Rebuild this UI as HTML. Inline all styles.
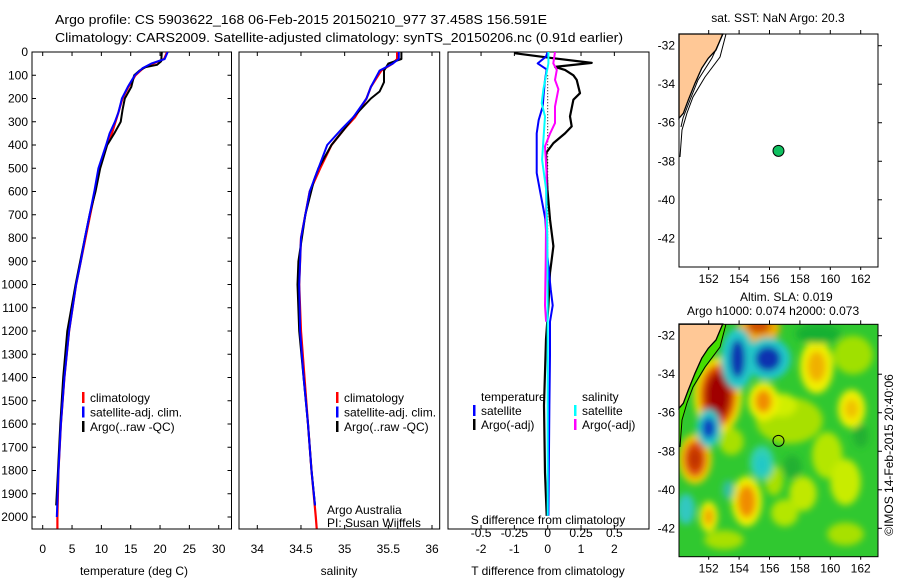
<!DOCTYPE html>
<html><head><meta charset="utf-8"><style>
html,body{margin:0;padding:0;background:#fff;}
svg{display:block;font-family:"Liberation Sans",sans-serif;}
</style></head><body>
<svg id="fig" width="900" height="580" viewBox="0 0 900 580" xmlns="http://www.w3.org/2000/svg">
<defs>
<clipPath id="clipHeat"><rect x="679" y="324.3" width="199" height="232.4"/></clipPath>
<clipPath id="clipTop"><rect x="679" y="34" width="199" height="233"/></clipPath>
<clipPath id="clipP1"><rect x="32" y="52" width="199.5" height="477"/></clipPath>
<clipPath id="clipP2"><rect x="239" y="52" width="200.7" height="477"/></clipPath>
<clipPath id="clipP3"><rect x="448" y="52" width="201" height="477"/></clipPath>
<filter id="blur" x="-50%" y="-50%" width="200%" height="200%"><feGaussianBlur stdDeviation="3.5"/></filter>
</defs>
<text x="55" y="24" font-size="13" textLength="492" lengthAdjust="spacingAndGlyphs">Argo profile: CS 5903622_168 06-Feb-2015 20150210_977 37.458S 156.591E</text>
<text x="55" y="42" font-size="13" textLength="568" lengthAdjust="spacingAndGlyphs">Climatology: CARS2009. Satellite-adjusted climatology: synTS_20150206.nc (0.91d earlier)</text>
<g id="layer"></g>
</svg>
<script>
// ---- data ----
const depthTicks = [0,100,200,300,400,500,600,700,800,900,1000,1100,1200,1300,1400,1500,1600,1700,1800,1900,2000];
const tempTicks = [0,5,10,15,20,25,30];
const salTicks = [34,34.5,35,35.5,36];
const salTickLabels = ["34","34.5","35","35.5","36"];
const tdiffTicks = [-2,-1,0,1,2];
const sdiffTicks = [-0.5,-0.25,0,0.25,0.5];
const sdiffTickLabels = ["-0.5","-0.25","0","0.25","0.5"];

const tClimDepth = [0,30,50,70,100,150,200,260,300,350,400,500,600,700,800,900,1000,1200,1400,1600,1800,2000,2050];
const tClimVal   = [21.2,20.7,18.8,17.1,15.8,14.6,13.6,12.9,12.4,11.8,10.9,9.7,8.9,8.1,7.3,6.5,5.7,4.5,3.7,3.1,2.7,2.5,2.5];
const tSatDepth = [0,30,50,70,100,150,200,260,300,350,400,500,600,700,800,900,1000,1200,1400,1600,1800,2000];
const tSatVal   = [21.3,20.8,18.5,17.0,15.7,14.5,13.5,12.9,12.3,11.4,10.8,9.5,8.8,8.0,7.2,6.5,5.7,4.5,3.7,3.1,2.7,2.4];
const tArgoDepth = [0,40,55,65,80,100,150,200,250,300,350,400,500,600,700,800,900,1000,1200,1400,1600,1800,1950];
const tArgoVal   = [20.3,20.2,19.5,17.5,16.5,15.6,15.1,14.0,13.6,13.3,12.2,11.0,9.8,9.0,8.0,7.2,6.4,5.6,4.2,3.5,3.0,2.6,2.3];

const sClimDepth = [0,30,50,80,150,200,280,330,400,500,600,800,1000,1200,1400,1600,1800,2000,2050];
const sClimVal   = [35.6,35.6,35.55,35.42,35.3,35.25,35.12,35.0,34.85,34.72,34.6,34.5,34.48,34.5,34.54,34.58,34.62,34.67,34.68];
const sSatDepth = [0,30,50,80,150,200,280,330,400,500,600,800,1000,1200,1400,1600,1800,1950];
const sSatVal   = [35.62,35.62,35.55,35.4,35.3,35.25,35.1,34.97,34.8,34.7,34.6,34.5,34.48,34.49,34.53,34.58,34.62,34.66];
const sArgoDepth = [0,30,50,80,130,170,200,280,330,400,500,550,700,900,1000,1200,1400,1600,1800,1950];
const sArgoVal   = [35.65,35.65,35.5,35.45,35.45,35.4,35.3,35.1,35.0,34.85,34.7,34.65,34.55,34.47,34.46,34.48,34.53,34.58,34.62,34.66];

const dTSatDepth = [0,20,49,75,120,180,235,292,350,435,520,606,720,877,1020,1090,1160,1305,1520,1995];
const dTSatVal   = [0.0,-0.05,-0.3,-0.03,-0.08,-0.12,-0.15,-0.27,-0.33,-0.33,-0.33,-0.22,-0.07,-0.01,0.09,0.15,0.07,0.07,0.05,0.02];
const dTArgoDepth = [5,25,47,64,77,100,120,177,205,277,320,350,392,435,590,720,835,950,1090,1235,1520,1810,1995];
const dTArgoVal   = [-1.0,0.07,1.32,0.22,0.52,0.77,0.87,0.97,0.77,0.67,0.72,0.52,0.17,-0.05,-0.01,0.07,0.17,0.07,0.02,-0.05,-0.11,-0.08,-0.03];
const dSSatDepth = [0,49,100,160,220,277,378,464,590,806,1200,1995];
const dSSatVal   = [0.005,0.005,-0.012,-0.032,-0.045,-0.02,-0.032,-0.042,-0.012,-0.002,0.0,0.0];
const dSArgoDepth = [0,49,77,120,160,235,306,350,406,520,692,900,1090,1160];
const dSArgoVal   = [0.055,0.042,0.068,0.055,0.08,0.055,0.055,0.018,-0.02,-0.008,-0.012,-0.015,-0.02,-0.012];

const mapLonTicks = [152,154,156,158,160,162];
const mapLatTicks = [-32,-34,-36,-38,-40,-42];
const argoLon = 156.591, argoLat = -37.458;

// ---- scales ----
const Y = d => 52 + d*0.2325;
const XT = t => 42.7 + t*5.867;
const XS = s => 257.3 + (s-34)*87.35;
const XDT = t => 547.7 + t*33.33;
const XDS = s => 547.7 + s*133.3;
const LON = l => 708.7 + (l-152)*15.2;
const LATT = l => 45.7 + (-32-l)*19.26;
const LATB = l => 335.7 + (-32-l)*19.26;

const NS="http://www.w3.org/2000/svg";
const layer=document.getElementById('layer');
function mk(tag,attrs,parent){const e=document.createElementNS(NS,tag);for(const k in attrs)e.setAttribute(k,attrs[k]);(parent||layer).appendChild(e);return e;}
function txt(x,y,s,size,anchor,parent){const t=mk('text',{x:x,y:y,'font-size':size,'text-anchor':anchor||'start'},parent);t.textContent=s;return t;}
function line(xs,ys,xf,color,w,clip){
  const pts=xs.map((v,i)=>xf(v).toFixed(1)+','+Y(ys[i]).toFixed(1)).join(' ');
  return mk('polyline',{points:pts,fill:'none',stroke:color,'stroke-width':w,'stroke-linejoin':'round','clip-path':clip});
}
function frame(x,y,w,h){return mk('rect',{x:x,y:y,width:w,height:h,fill:'none',stroke:'#000','stroke-width':1});}

// ---- panel 1 temperature ----
const p1=frame(32,52,199.5,477);


depthTicks.forEach(d=>{
  const l=txt(28,Y(d)+4,String(d),12,'end');
  
  
  mk('line',{x1:32,x2:36,y1:Y(d),y2:Y(d),stroke:'#000'});
  mk('line',{x1:227.5,x2:231.5,y1:Y(d),y2:Y(d),stroke:'#000'});
});
tempTicks.forEach(t=>{
  const l=txt(XT(t),553,String(t),12,'middle');
  
  
  mk('line',{x1:XT(t),x2:XT(t),y1:529,y2:525,stroke:'#000'});
  mk('line',{x1:XT(t),x2:XT(t),y1:52,y2:56,stroke:'#000'});
});
const xt1=txt(134,575,'temperature (deg C)',12,'middle');


let s;
s=line(tClimVal,tClimDepth,XT,'#f00',2.2,'url(#clipP1)');


s=line(tArgoVal,tArgoDepth,XT,'#000',2,'url(#clipP1)');


s=line(tSatVal,tSatDepth,XT,'#0000ff',2,'url(#clipP1)');



function legend3(x,y,name){
  const g=mk('g',{});
  
  
  [['#f00','climatology'],['#0000ff','satellite-adj. clim.'],['#000','Argo(..raw -QC)']].forEach((e,i)=>{
    mk('rect',{x:x,y:y+i*14.5-10,width:2.5,height:11,fill:e[0]},g);
    txt(x+8,y+i*14.5,e[1],12,'start',g);
  });
}
legend3(82,402,'temperature-legend');

// ---- panel 2 salinity ----
const p2=frame(239,52,200.7,477);


salTicks.forEach((v,i)=>{
  const l=txt(XS(v),553,salTickLabels[i],12,'middle');
  
  
  mk('line',{x1:XS(v),x2:XS(v),y1:529,y2:525,stroke:'#000'});
  mk('line',{x1:XS(v),x2:XS(v),y1:52,y2:56,stroke:'#000'});
});
const xt2=txt(339,575,'salinity',12,'middle');


s=line(sClimVal,sClimDepth,XS,'#f00',2.2,'url(#clipP2)');


s=line(sArgoVal,sArgoDepth,XS,'#000',2,'url(#clipP2)');


s=line(sSatVal,sSatDepth,XS,'#0000ff',2,'url(#clipP2)');


legend3(336,402,'salinity-legend');
const cr1=txt(327,514,'Argo Australia',12);


const cr2=txt(327,527,'PI: Susan Wijffels',12);



// ---- panel 3 differences ----
const p3=frame(448,52,201,477);


mk('line',{x1:XDT(0),x2:XDT(0),y1:Y(100),y2:Y(900),stroke:'#000','stroke-width':1,'stroke-dasharray':'1,2'});
tdiffTicks.forEach(v=>{
  const l=txt(XDT(v),553,String(v),12,'middle');
  
  
  mk('line',{x1:XDT(v),x2:XDT(v),y1:529,y2:525,stroke:'#000'});
});
sdiffTicks.forEach((v,i)=>{
  const l=txt(XDS(v),537,sdiffTickLabels[i],12,'middle');
  
  
  mk('line',{x1:XDS(v),x2:XDS(v),y1:52,y2:56,stroke:'#000'});
});
const sdt=txt(548,524,'S difference from climatology',12,'middle');


const tdt=txt(548,575,'T difference from climatology',12,'middle');


s=line(dTArgoVal,dTArgoDepth,XDT,'#000',2.2,'url(#clipP3)');


s=line(dTSatVal,dTSatDepth,XDT,'#0000ff',2,'url(#clipP3)');


s=line(dSArgoVal,dSArgoDepth,XDS,'#ff00ff',2,'url(#clipP3)');


s=line(dSSatVal,dSSatDepth,XDS,'#00ffff',2,'url(#clipP3)');


const dl=mk('g',{});


txt(481,401,'temperature',12,'start',dl);
txt(582,401,'salinity',12,'start',dl);
[[473,'#0000ff','satellite',415],[473,'#000','Argo(-adj)',429],[574,'#00ffff','satellite',415],[574,'#ff00ff','Argo(-adj)',429]].forEach(e=>{
  mk('rect',{x:e[0],y:e[3]-10,width:2.5,height:11,fill:e[1]},dl);
  txt(e[0]+8,e[3],e[2],12,'start',dl);
});

// ---- maps ----
const landPts=[[679,34],[722.7,34],[716,50],[708.3,58.3],[701.7,68.3],[695,83.3],[688.3,100],[683.3,113.3],[679,118.3]];
const contour1=[[726,34],[720,57],[705,77],[693,97],[687,113],[682,130],[680,157]];
const contour2=[[723,34],[712,58],[698,80],[690,100],[683,118],[681,127]];
function pstr(a,dy){return a.map(p=>p[0]+','+(p[1]+dy)).join(' ');}
function mapAxes(top,bottom,latf,name){
  const f=frame(679,top,199,bottom-top);
  
  
  mapLonTicks.forEach(l=>{
    const t=txt(LON(l),bottom+16,String(l),12,'middle');
    
    
    mk('line',{x1:LON(l),x2:LON(l),y1:top,y2:top-4,stroke:'#000'});
    mk('line',{x1:LON(l),x2:LON(l),y1:bottom,y2:bottom+3,stroke:'#000'});
  });
  mapLatTicks.forEach(l=>{
    const t=txt(675,latf(l)+4,String(l),12,'end');
    
    
    mk('line',{x1:878,x2:882,y1:latf(l),y2:latf(l),stroke:'#000'});
  });
}
// top map
const land1=mk('polygon',{points:pstr(landPts,0),fill:'#ffc896',stroke:'#000','stroke-width':1.3});


mk('polyline',{points:pstr(contour1,0),fill:'none',stroke:'#000','stroke-width':1,'clip-path':'url(#clipTop)'});
mk('polyline',{points:pstr(contour2,0),fill:'none',stroke:'#000','stroke-width':1,'clip-path':'url(#clipTop)'});
mapAxes(34,267,LATT,'sst-map');
const dot1=mk('circle',{cx:LON(argoLon),cy:LATT(argoLat),r:5.5,fill:'#10c060',stroke:'#000','stroke-width':1});


const st1=txt(778,22,'sat. SST: NaN Argo: 20.3',12,'middle');



// bottom heat map
const heat=mk('g',{'clip-path':'url(#clipHeat)'});


mk('rect',{x:679,y:324,width:199,height:233,fill:'#30c830'},heat);
const hb=mk('g',{filter:'url(#blur)'},heat);
// blobs: lon, lat, rx(deg), ry(deg), colour
const blobs=[
 [157.3,-36.4,2.2,1.2,'#a8e000'],[156.8,-35.6,1.0,0.6,'#d0ee00'],[159.8,-38.2,1.0,1.2,'#b4e600'],
 [161,-39.6,1.0,1.2,'#c8ec00'],[158.2,-40.2,0.9,0.9,'#c0e800'],[157,-41.2,0.9,0.7,'#b4e600'],
 [161,-42.3,1.2,0.6,'#a8e000'],[153,-42.6,1.3,0.5,'#a8e000'],[161.5,-33,1.3,1.0,'#a0e000'],
 [156.3,-39.5,0.6,0.8,'#a8e000'],[153.5,-37.5,0.8,0.7,'#a8e000'],
 [159.1,-33.6,1.1,1.4,'#f0f000'],[159.1,-33.6,0.6,0.8,'#f0b000'],
 [161.4,-35.8,0.9,1.0,'#f0f000'],[161.4,-35.8,0.45,0.5,'#f0c000'],
 [155.6,-35.4,1.0,1.0,'#f0f000'],[155.6,-35.4,0.55,0.6,'#f08c00'],
 [154.5,-40.6,1.0,1.3,'#f0f000'],[154.5,-40.6,0.6,0.85,'#f08c00'],
 [152,-41.4,0.6,0.8,'#f0f000'],[152,-41.4,0.3,0.45,'#f0a000'],
 [155.3,-31.6,1.4,0.8,'#f0b000'],[155.3,-31.5,0.8,0.4,'#d05000'],
 [152.6,-35.1,1.6,2.0,'#f0e000'],[152.6,-35.1,1.2,1.6,'#e05000'],[152.6,-35.1,0.8,1.2,'#a00000'],
 [151.1,-38.4,1.1,1.3,'#f0d000'],[151.1,-38.4,0.75,0.95,'#e05010'],[151.1,-38.4,0.4,0.55,'#c03000'],
 [153.9,-33.2,1.1,1.6,'#20c8c8'],[153.9,-33.2,0.5,1.0,'#1030b0'],
 [155.9,-33.2,1.5,1.1,'#20c8c8'],[155.9,-33.2,0.85,0.65,'#1030b0'],
 [152,-36.8,0.8,1.0,'#20c8c8'],[152,-36.8,0.45,0.55,'#1040c0'],
 [155.5,-38.6,0.8,0.9,'#30d0b0'],[155.5,-38.7,0.4,0.5,'#20c8c8'],[150.5,-41,0.6,0.8,'#30c8c0'],[153.3,-40,0.4,0.5,'#30c0a0'],
 [157.5,-38.8,0.6,0.6,'#20b030'],[159.2,-31.9,1.5,0.5,'#18b030'],[162,-37.2,0.5,0.6,'#20b030']
];
blobs.forEach(b=>{
  mk('ellipse',{cx:LON(b[0]),cy:LATB(b[1]),rx:b[2]*15.2,ry:b[3]*19.26,fill:b[4]},hb);
});
mk('polygon',{points:pstr([[679,34],[727,34],[721,57],[706,77],[694,97],[688,113],[683,130],[681,157],[679,157]],290),fill:'#44dd00'},heat);
const land2=mk('polygon',{points:pstr(landPts,290),fill:'#ffc896',stroke:'#000','stroke-width':1.3});


mk('polyline',{points:pstr(contour1,290),fill:'none',stroke:'#000','stroke-width':1,'clip-path':'url(#clipHeat)'});
mapAxes(324.3,556.7,LATB,'sla-map');
const dot2=mk('circle',{cx:LON(argoLon),cy:LATB(argoLat),r:5.5,fill:'none',stroke:'#000','stroke-width':1});


const st2=txt(740,301,'Altim. SLA: 0.019',12,'start');


const st3=txt(687,315,'Argo h1000: 0.074 h2000: 0.073',12,'start');


const cp=txt(0,0,'\u00A9IMOS 14-Feb-2015 20:40:06',12,'middle');
cp.setAttribute('transform','translate(893,455) rotate(-90)');


</script>
</body></html>
